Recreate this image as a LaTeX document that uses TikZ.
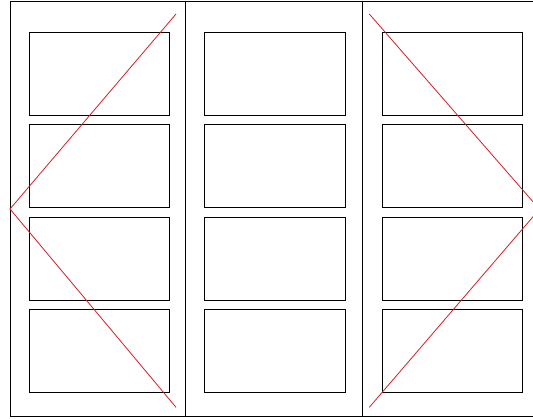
\documentclass[tikz,border=0pt]{standalone}
\begin{document}
\begin{tikzpicture}[x=1pt,y=-1pt,
  frame/.style={draw=black, line width=0.8pt},
  colbox/.style={frame, inner sep=0pt, minimum height=415.2pt},
  panel/.style={frame, inner sep=0pt, minimum width=140.3pt, minimum height=83pt},
  diag/.style={draw={rgb,255:red,215;green,30;blue,35}, line width=0.8pt}]
\useasboundingbox (0,0) rectangle (533,418);
\clip (0,0) rectangle (533,418);
% columns
\node[colbox, minimum width=175.3pt] (c1) at (97.65,209.1) {};
\node[colbox, minimum width=177.4pt] (c2) at (274.0,209.1) {};
\node[colbox, minimum width=176.8pt] (c3) at (451.1,209.1) {};
% panels
\foreach \c/\x in {1/99.3, 2/275.0, 3/452.3} {
  \foreach \r/\y in {1/74.35, 2/166.0, 3/258.5, 4/351.2} {
    \node[panel] (p\c\r) at (\x,\y) {};
  }
}
% red chevrons
\coordinate (a1) at (176,14);
\coordinate (a2) at (10,209);
\coordinate (a3) at (176,407.3);
\coordinate (b1) at (369.3,14);
\coordinate (b2) at (539.5,209.2);
\coordinate (b3) at (369.3,407.3);
\draw[diag] (a1) -- (a2) -- (a3);
\draw[diag] (b1) -- (b2) -- (b3);
\end{tikzpicture}
\end{document}
